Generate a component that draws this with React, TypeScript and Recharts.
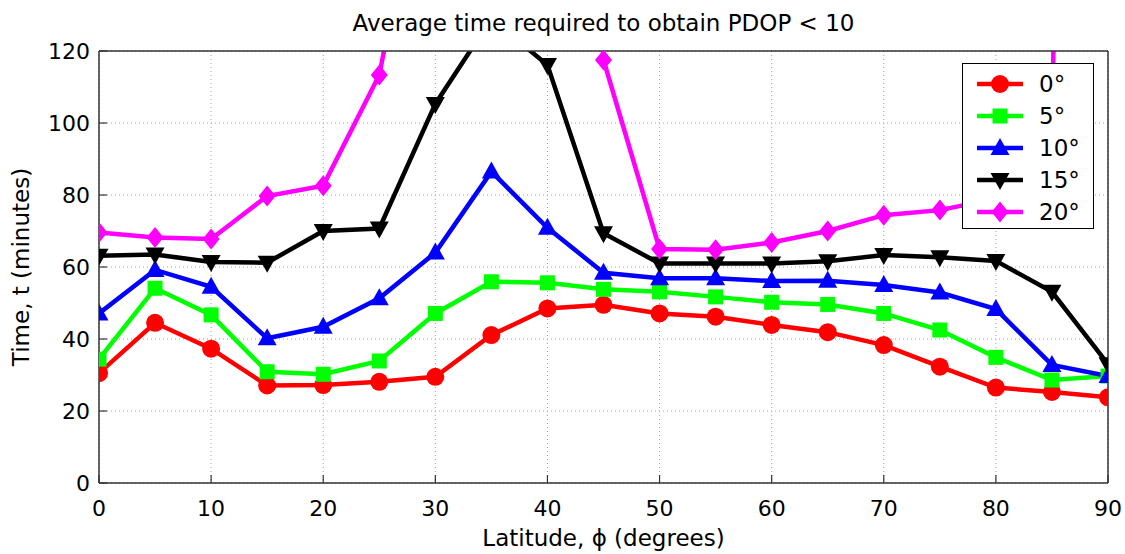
import React from 'react';
import { LineChart, Line, XAxis, YAxis, CartesianGrid, Legend, Label } from 'recharts';

const latitudes = [0, 5, 10, 15, 20, 25, 30, 35, 40, 45, 50, 55, 60, 65, 70, 75, 80, 85, 90];
const elev0 = [30.5, 44.5, 37.3, 27.1, 27.2, 28.1, 29.5, 41.1, 48.5, 49.5, 47.1, 46.2, 43.9, 41.9, 38.3, 32.3, 26.5, 25.3, 23.8];
const elev5 = [34.4, 54.1, 46.7, 30.9, 30.2, 33.9, 47.1, 55.9, 55.6, 53.8, 53.1, 51.7, 50.2, 49.6, 47.1, 42.5, 34.9, 28.6, 29.7];
const elev10 = [47.1, 59.2, 54.5, 40.2, 43.4, 51.3, 64.0, 86.5, 70.9, 58.4, 56.9, 56.9, 56.1, 56.2, 55.0, 52.9, 48.3, 32.8, 29.7];
const elev15 = [63.1, 63.5, 61.4, 61.2, 70.0, 70.7, 105.3, 129, 116.1, 69.4, 61.0, 61.0, 61.0, 61.6, 63.3, 62.7, 61.7, 53.1, 33.0];
const elev20 = [69.6, 68.2, 67.8, 79.7, 82.6, 113.3, 193, 300, 400, 117.5, 65.0, 64.8, 66.8, 70.0, 74.4, 75.8, 79.0, 84.0, 1500];

const xTicks = [0, 10, 20, 30, 40, 50, 60, 70, 80, 90];
const yTicks = [0, 20, 40, 60, 80, 100, 120];

const titleText = 'Average time required to obtain PDOP < 10';
const xLabelText = 'Latitude, \u03D5 (degrees)';
const yLabelText = 'Time, t (minutes)';

type Shape = 'circle' | 'square' | 'up' | 'down' | 'diamond';

const seriesNames = ['0\u00B0', '5\u00B0', '10\u00B0', '15\u00B0', '20\u00B0'];
const seriesKeys = ['e0', 'e5', 'e10', 'e15', 'e20'];
const seriesColors = ['#ff0000', '#00ff00', '#0000ff', '#000000', '#ff00ff'];
const seriesShapes: Shape[] = ['circle', 'square', 'up', 'down', 'diamond'];
const seriesValues = [elev0, elev5, elev10, elev15, elev20];

const data = latitudes.map((lat, i) => {
  const row: Record<string, number> = { lat };
  seriesKeys.forEach((k, s) => {
    row[k] = seriesValues[s][i];
  });
  return row;
});

const FONT = '"DejaVu Sans", "Liberation Sans", sans-serif';
const AXIS_COLOR = '#333333';

function markerEl(shape: Shape, cx: number, cy: number, color: string, key?: string) {
  switch (shape) {
    case 'circle':
      return <circle key={key} cx={cx} cy={cy} r={9} fill={color} />;
    case 'square':
      return <rect key={key} x={cx - 7.5} y={cy - 7.5} width={15} height={15} fill={color} />;
    case 'up':
      return (
        <polygon key={key} points={`${cx},${cy - 10} ${cx - 9.5},${cy + 7} ${cx + 9.5},${cy + 7}`} fill={color} />
      );
    case 'down':
      return (
        <polygon key={key} points={`${cx},${cy + 10} ${cx - 9.5},${cy - 7} ${cx + 9.5},${cy - 7}`} fill={color} />
      );
    case 'diamond':
    default:
      return (
        <polygon key={key} points={`${cx},${cy - 10.5} ${cx + 8.5},${cy} ${cx},${cy + 10.5} ${cx - 8.5},${cy}`} fill={color} />
      );
  }
}

function makeDot(shape: Shape, color: string, name: string) {
  return (props: any) => {
    const { cx, cy, index } = props;
    if (cx == null || cy == null || isNaN(cx) || isNaN(cy)) {
      return <g key={`${name}-${index}`} />;
    }
    return markerEl(shape, cx, cy, color, `${name}-${index}`);
  };
}

function LegendBox() {
  return (
    <div
      style={{
        width: 132,
        height: 166,
        boxSizing: 'border-box',
        border: '1px solid #000',
        background: '#fff',
        paddingTop: 4,
        fontFamily: FONT,
        fontSize: 23,
        color: '#000',
      }}
    >
      {seriesNames.map((n, i) => (
        <div key={n} style={{ height: 32, display: 'flex', alignItems: 'center', paddingLeft: 14 }}>
          <svg width={62} height={32} style={{ display: 'block' }}>
            <line x1={0} y1={16} x2={46} y2={16} stroke={seriesColors[i]} strokeWidth={4.5} />
            {markerEl(seriesShapes[i], 23, 16, seriesColors[i])}
          </svg>
          <span style={{ lineHeight: '32px' }}>{n}</span>
        </div>
      ))}
    </div>
  );
}

export default function App() {
  return (
    <div style={{ position: 'absolute', left: 0, top: 0, width: 1125, height: 554, background: '#fff' }}>
      <LineChart width={1125} height={554} data={data} margin={{ top: 50, right: 16, left: 0, bottom: 0 }}>
        <CartesianGrid
          stroke="#a0a0a0"
          strokeDasharray="1 3"
          strokeWidth={1}
          verticalValues={xTicks}
          horizontalValues={yTicks}
        />
        <XAxis
          dataKey="lat"
          type="number"
          domain={[0, 90]}
          ticks={xTicks}
          allowDataOverflow
          height={71}
          tickSize={-8}
          tickMargin={25}
          axisLine={{ stroke: AXIS_COLOR, strokeWidth: 1.5 }}
          tickLine={{ stroke: AXIS_COLOR, strokeWidth: 1.2 }}
          tick={{ fill: '#000', fontSize: 22, fontFamily: FONT }}
        >
          <Label
            content={(props: any) => {
              const vb = props.viewBox || { x: 99, y: 483, width: 1009, height: 71 };
              return (
                <text
                  x={vb.x + vb.width / 2}
                  y={vb.y + 63}
                  textAnchor="middle"
                  fontSize={23}
                  fontFamily={FONT}
                  fill="#000"
                >
                  {xLabelText}
                </text>
              );
            }}
          />
        </XAxis>
        <XAxis
          xAxisId="top"
          dataKey="lat"
          orientation="top"
          type="number"
          domain={[0, 90]}
          ticks={xTicks}
          allowDataOverflow
          height={1}
          tickSize={-8}
          tick={false}
          axisLine={{ stroke: AXIS_COLOR, strokeWidth: 1.5 }}
          tickLine={{ stroke: AXIS_COLOR, strokeWidth: 1.2 }}
        >
          <Label
            content={(props: any) => {
              const vb = props.viewBox || { x: 99, y: 50, width: 1009, height: 1 };
              return (
                <text
                  x={vb.x + vb.width / 2}
                  y={vb.y + vb.height - 20}
                  textAnchor="middle"
                  fontSize={23}
                  fontFamily={FONT}
                  fill="#000"
                >
                  {titleText}
                </text>
              );
            }}
          />
        </XAxis>
        <YAxis
          type="number"
          domain={[0, 120]}
          ticks={yTicks}
          allowDataOverflow
          width={99}
          tickSize={-8}
          tickMargin={17}
          axisLine={{ stroke: AXIS_COLOR, strokeWidth: 1.5 }}
          tickLine={{ stroke: AXIS_COLOR, strokeWidth: 1.2 }}
          tick={{ fill: '#000', fontSize: 22, fontFamily: FONT }}
        >
          <Label
            content={(props: any) => {
              const vb = props.viewBox || { x: 0, y: 51, width: 99, height: 432 };
              const cx = vb.x + 21;
              const cy = vb.y + vb.height / 2;
              return (
                <text
                  x={cx}
                  y={cy}
                  dy="0.36em"
                  transform={`rotate(-90 ${cx} ${cy})`}
                  textAnchor="middle"
                  fontSize={23}
                  fontFamily={FONT}
                  fill="#000"
                >
                  {yLabelText}
                </text>
              );
            }}
          />
        </YAxis>
        <YAxis
          yAxisId="right"
          orientation="right"
          type="number"
          domain={[0, 120]}
          ticks={yTicks}
          allowDataOverflow
          width={1}
          tickSize={-8}
          tick={false}
          axisLine={{ stroke: AXIS_COLOR, strokeWidth: 1.5 }}
          tickLine={{ stroke: AXIS_COLOR, strokeWidth: 1.2 }}
        />
        <Line
          xAxisId="top"
          yAxisId="right"
          dataKey="e0"
          stroke="none"
          strokeWidth={0}
          dot={false}
          activeDot={false}
          legendType="none"
          isAnimationActive={false}
        />
        {seriesKeys.map((k, i) => (
          <Line
            key={k}
            type="linear"
            dataKey={k}
            name={seriesNames[i]}
            stroke={seriesColors[i]}
            strokeWidth={4.5}
            dot={makeDot(seriesShapes[i], seriesColors[i], k)}
            activeDot={false}
            isAnimationActive={false}
          />
        ))}
        <Legend
          layout="vertical"
          align="center"
          verticalAlign="middle"
          content={() => <LegendBox />}
          wrapperStyle={{ position: 'absolute', left: 962, top: 63, width: 132, height: 166 }}
        />
      </LineChart>
    </div>
  );
}
